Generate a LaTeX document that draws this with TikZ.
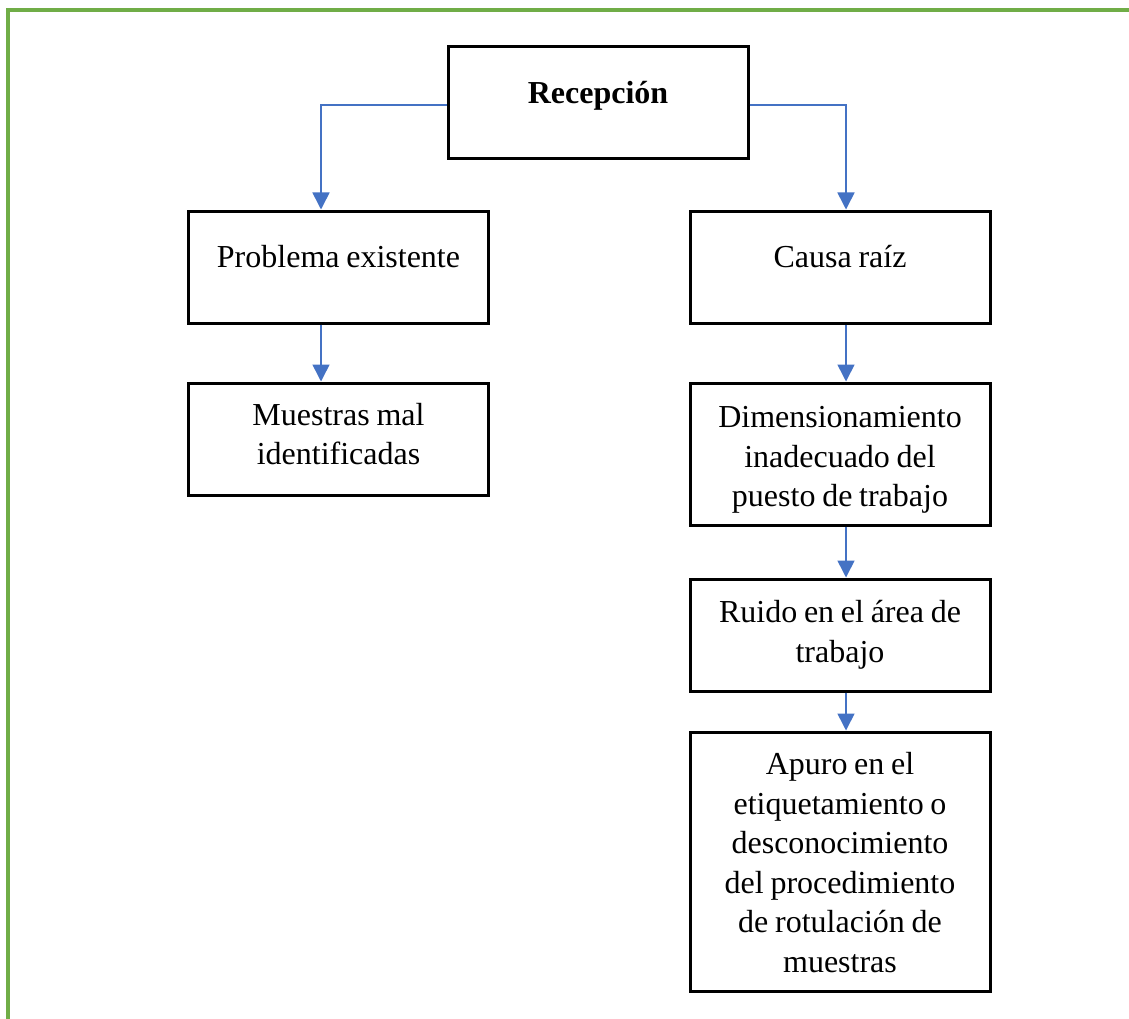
\documentclass[tikz,border=0pt]{standalone}
\usepackage{fontspec}
\setmainfont{Liberation Serif}
\usetikzlibrary{arrows.meta}
\definecolor{framegreen}{HTML}{70AD47}
\definecolor{linkblue}{HTML}{4472C4}
\newcommand{\boxfont}{\fontsize{32}{39.5}\selectfont\spaceskip=0.21em\relax}
\begin{document}
\begin{tikzpicture}[x=1pt,y=-1pt,
  box/.style={draw=black,line width=3pt,minimum width=300pt,inner sep=0pt},
  txt/.style={inner sep=0pt,align=center,font=\boxfont},
  link/.style={draw=linkblue,line width=1.6pt,-{Triangle[width=17pt,length=17pt]}}]
\useasboundingbox (0,0) rectangle (1129,1019);
% page frame
\draw[framegreen,line width=3.5pt] (1129,10) -- (8,10) -- (8,1019);
% boxes
\node[box,minimum height=112pt] (rec) at (598,103) {};
\node[box,minimum height=112pt] (prob) at (338.5,267) {};
\node[box,minimum height=112pt] (mues) at (338.5,439) {};
\node[box,minimum height=112pt] (causa) at (840,267) {};
\node[box,minimum height=142pt] (dim) at (840,454) {};
\node[box,minimum height=112pt] (ruido) at (840,635) {};
\node[box,minimum height=259pt] (apuro) at (840,861.5) {};
% box texts
\node[txt,font=\boxfont\bfseries] (rec-t) at ([yshift=7pt]rec.center) {Recepción};
\node[txt] (prob-t) at ([yshift=10pt]prob.center) {Problema existente};
\node[txt] (mues-t) at ([yshift=5pt]mues.center) {Muestras mal\\identificadas};
\node[txt] (causa-t) at ([yshift=10pt]causa.center) {Causa raíz};
\node[txt] (dim-t) at ([yshift=-6pt]dim.center) {Dimensionamiento\\inadecuado del\\puesto de trabajo};
\node[txt] (ruido-t) at (ruido.center) {Ruido en el área de\\trabajo};
\node[txt] (apuro-t) at ([yshift=-1pt]apuro.center) {Apuro en el\\etiquetamiento o\\desconocimiento\\del procedimiento\\de rotulación de\\muestras};
% connectors
\coordinate (pl) at ([xshift=-17.5pt]prob.north);
\coordinate (cl) at ([xshift=6pt]causa.north);
\draw[link] ([yshift=-2pt]rec.west) -| (pl);
\draw[link] ([yshift=-2pt]rec.east) -| (cl);
\draw[link] ([xshift=-17.5pt]prob.south) -- ([xshift=-17.5pt]mues.north);
\draw[link] ([xshift=6pt]causa.south) -- ([xshift=6pt]dim.north);
\draw[link] ([xshift=6pt]dim.south) -- ([xshift=6pt]ruido.north);
\draw[link] ([xshift=6pt]ruido.south) -- ([xshift=6pt]apuro.north);
\end{tikzpicture}
\end{document}
